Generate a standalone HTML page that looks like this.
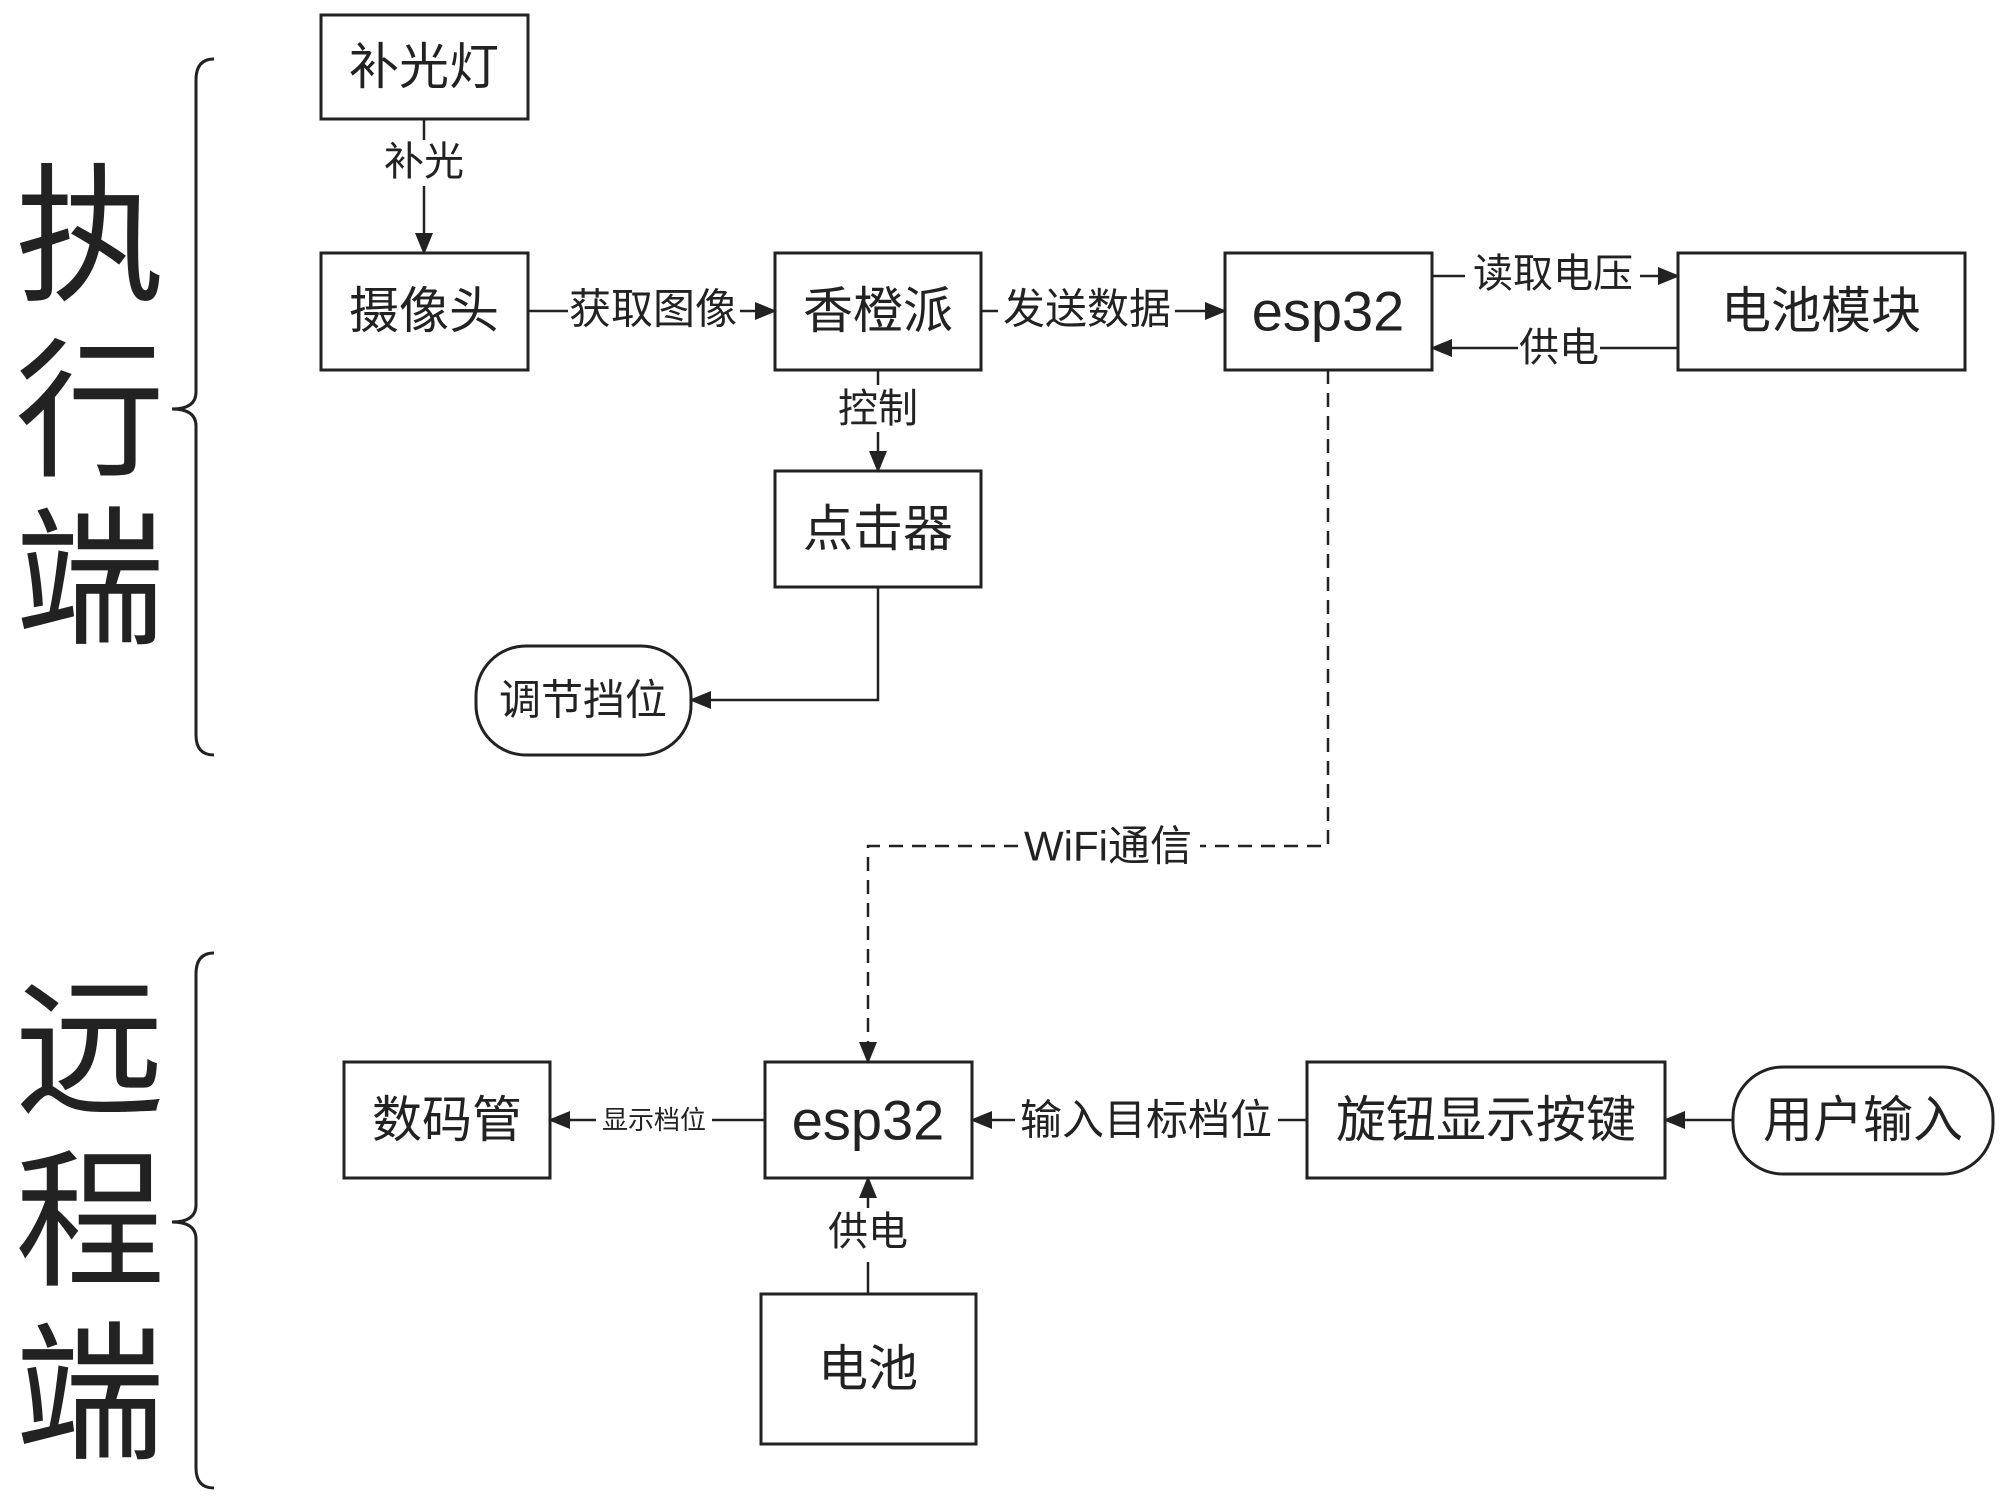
<!DOCTYPE html>
<html><head><meta charset="utf-8"><style>
html,body{margin:0;padding:0;background:#fff;}
svg{display:block;}
text{font-family:"Liberation Sans","Noto Sans CJK SC",sans-serif;fill:#222;}
</style></head><body>
<svg width="2000" height="1497" viewBox="0 0 2000 1497" xmlns="http://www.w3.org/2000/svg">
<defs>
<marker id="a" markerWidth="10" markerHeight="10" refX="9" refY="5" orient="auto" markerUnits="userSpaceOnUse" viewBox="0 0 10 10"><path d="M0,0 L10,5 L0,10 z" fill="#222"/></marker>
<marker id="b" markerWidth="22" markerHeight="22" refX="20" refY="11" orient="auto" markerUnits="userSpaceOnUse" viewBox="0 0 22 22"><path d="M0,2 L22,11 L0,20 z" fill="#222"/></marker>
</defs>
<g fill="none" stroke="#222" stroke-width="3">
<!-- braces -->
<path d="M214,59 Q196,59 196,80 L196,392 Q196,409 172,409 Q196,409 196,426 L196,735 Q196,755 214,755"/>
<path d="M214,953 Q196,953 196,974 L196,1205 Q196,1222 172,1222 Q196,1222 196,1239 L196,1468 Q196,1488 214,1488"/>
<!-- boxes -->
<rect x="321" y="15" width="207" height="104"/>
<rect x="321" y="253" width="207" height="117"/>
<rect x="775" y="253" width="206" height="117"/>
<rect x="775" y="471" width="206" height="116"/>
<rect x="476" y="646" width="215" height="109" rx="50"/>
<rect x="1225" y="253" width="207" height="117"/>
<rect x="1678" y="253" width="287" height="117"/>
<rect x="344" y="1062" width="206" height="116"/>
<rect x="765" y="1062" width="207" height="116"/>
<rect x="761" y="1294" width="215" height="150"/>
<rect x="1307" y="1062" width="358" height="116"/>
<rect x="1733" y="1067" width="260" height="107" rx="50"/>
</g>
<g stroke="#222" stroke-width="2.5" fill="none">
<line x1="424" y1="119" x2="424" y2="140"/>
<line x1="424" y1="186" x2="424" y2="253" marker-end="url(#b)"/>
<line x1="528" y1="311" x2="568" y2="311"/>
<line x1="740" y1="311" x2="775" y2="311" marker-end="url(#b)"/>
<line x1="981" y1="311" x2="998" y2="311"/>
<line x1="1175" y1="311" x2="1225" y2="311" marker-end="url(#b)"/>
<line x1="878" y1="370" x2="878" y2="385"/>
<line x1="878" y1="432" x2="878" y2="471" marker-end="url(#b)"/>
<polyline points="878,587 878,700 691,700" marker-end="url(#b)"/>
<line x1="1432" y1="276" x2="1465" y2="276"/>
<line x1="1640" y1="276" x2="1678" y2="276" marker-end="url(#b)"/>
<line x1="1678" y1="348" x2="1600" y2="348"/>
<line x1="1518" y1="348" x2="1432" y2="348" marker-end="url(#b)"/>
<polyline points="1328,370 1328,846 1200,846" stroke-dasharray="14,9"/>
<polyline points="1018,846 868,846 868,1062" stroke-dasharray="14,9" marker-end="url(#b)"/>
<line x1="765" y1="1120" x2="712" y2="1120"/>
<line x1="596" y1="1120" x2="550" y2="1120" marker-end="url(#b)"/>
<line x1="1307" y1="1120" x2="1278" y2="1120"/>
<line x1="1015" y1="1120" x2="972" y2="1120" marker-end="url(#b)"/>
<line x1="1733" y1="1120" x2="1665" y2="1120" marker-end="url(#b)"/>
<line x1="868" y1="1294" x2="868" y2="1262"/>
<line x1="868" y1="1208" x2="868" y2="1178" marker-end="url(#b)"/>
</g>
<g text-anchor="middle" dominant-baseline="central">
<text x="90" y="237" font-size="150">执</text>
<text x="90" y="412" font-size="150">行</text>
<text x="90" y="580" font-size="150">端</text>
<text x="90" y="1050" font-size="150">远</text>
<text x="90" y="1222" font-size="150">程</text>
<text x="90" y="1395" font-size="150">端</text>

<text x="424" y="67" font-size="50">补光灯</text>
<text x="424" y="162" font-size="40">补光</text>
<text x="424" y="311" font-size="50">摄像头</text>
<text x="653" y="309" font-size="42">获取图像</text>
<text x="878" y="311" font-size="50">香橙派</text>
<text x="1087" y="309" font-size="42">发送数据</text>
<text x="878" y="409" font-size="40">控制</text>
<text x="878" y="529" font-size="50">点击器</text>
<text x="583" y="700" font-size="42">调节挡位</text>
<text x="1328" y="311" font-size="56">esp32</text>
<text x="1553" y="274" font-size="40">读取电压</text>
<text x="1559" y="348" font-size="40">供电</text>
<text x="1821" y="311" font-size="50">电池模块</text>
<text x="1108" y="846" font-size="42">WiFi通信</text>
<text x="447" y="1120" font-size="50">数码管</text>
<text x="654" y="1120" font-size="26">显示档位</text>
<text x="868" y="1120" font-size="56">esp32</text>
<text x="1146" y="1120" font-size="42">输入目标档位</text>
<text x="1486" y="1120" font-size="50">旋钮显示按键</text>
<text x="1863" y="1120" font-size="50">用户输入</text>
<text x="868" y="1232" font-size="40">供电</text>
<text x="868" y="1369" font-size="50">电池</text>
</g>
</svg>
</body></html>
